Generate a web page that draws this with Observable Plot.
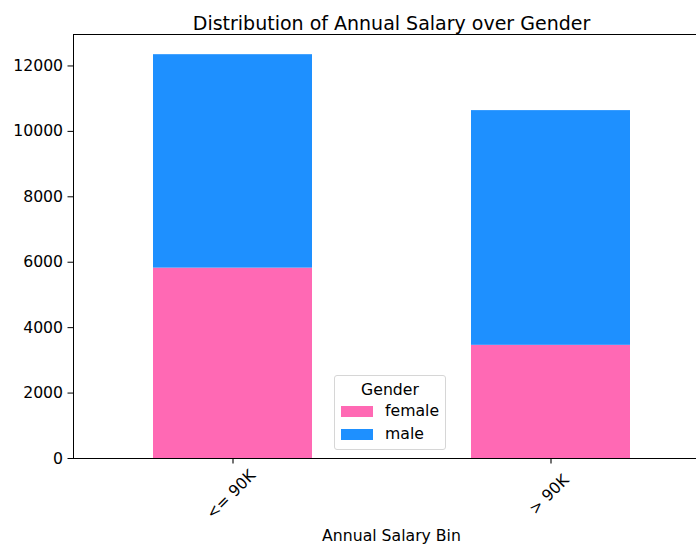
<!DOCTYPE html>
<html><head><meta charset="utf-8">
<script src="https://cdn.jsdelivr.net/npm/d3@7"></script>
<script src="https://cdn.jsdelivr.net/npm/@observablehq/plot@0.6"></script>
<style>
body{margin:0;background:#fff;font-family:"DejaVu Sans",sans-serif;}
#wrap{position:relative;width:696px;height:546px;overflow:hidden;}
.legend{position:absolute;left:334px;top:375px;width:112px;height:75px;border:1px solid #d6d6d6;border-radius:3px;background:rgba(255,255,255,0.8);box-sizing:border-box;font-size:15.7px;color:#000;line-height:1;}
.legend .t{position:absolute;left:0;width:110px;top:6px;text-align:center;}
.legend .sw{position:absolute;left:6px;width:32px;height:11px;}
.legend .lb{position:absolute;left:50px;}
</style></head>
<body><div id="wrap"></div>
<script>
const bins = ["<= 90K", "> 90K"];
const genders = ["female", "male"];
const femaleCounts = [5820, 3460];
const maleCounts = [6525, 7175];
const yTicks = [0, 2000, 4000, 6000, 8000, 10000, 12000];
const colors = ["#FF69B4", "#1E90FF"];
const yMax = 12962;

const data = bins.flatMap((b, i) => [
  {bin: b, gender: "female", count: femaleCounts[i]},
  {bin: b, gender: "male", count: maleCounts[i]}
]);

const chart = Plot.plot({
  width: 696, height: 546,
  marginLeft: 73, marginRight: 0, marginTop: 34, marginBottom: 88,
  style: {fontFamily: "DejaVu Sans", fontSize: "15.7px", background: "white", color: "black"},
  x: {domain: bins, range: [73, 709], paddingInner: 0.5, paddingOuter: 0.25, label: null},
  y: {domain: [0, yMax], label: null, ticks: yTicks, tickSize: 5.5, tickPadding: 4.9, line: true, tickFormat: d => String(d)},
  color: {domain: genders, range: colors},
  marks: [
    Plot.barY(data, {x: "bin", y: "count", fill: "gender"}),
    Plot.ruleY([0, yMax], {stroke: "black", strokeWidth: 1.1}),
    Plot.axisX({tickSize: 5.5, tickFormat: () => "", label: null, strokeWidth: 1.1, stroke: "black"}),
    Plot.text(bins, {x: d => d, frameAnchor: "bottom", dx: -2, dy: 36, rotate: -45, textAnchor: "middle", lineAnchor: "middle", fill: "black"}),
    Plot.text(["Distribution of Annual Salary over Gender"], {frameAnchor: "top", dx: 6.5, dy: -18, fontSize: 19, fill: "black"}),
    Plot.text(["Annual Salary Bin"], {frameAnchor: "bottom", dx: 6.5, dy: 82, fill: "black"})
  ]
});
const wrap = document.getElementById("wrap");
wrap.appendChild(chart);

const lg = document.createElement("div");
lg.className = "legend";
let html = '<div class="t">Gender</div>';
genders.forEach((g, i) => {
  const top = 30 + i * 23;
  html += `<div class="sw" style="top:${top}px;background:${colors[i]}"></div>`;
  html += `<div class="lb" style="top:${top - 3}px">${g}</div>`;
});
lg.innerHTML = html;
wrap.appendChild(lg);
</script>
</body></html>
